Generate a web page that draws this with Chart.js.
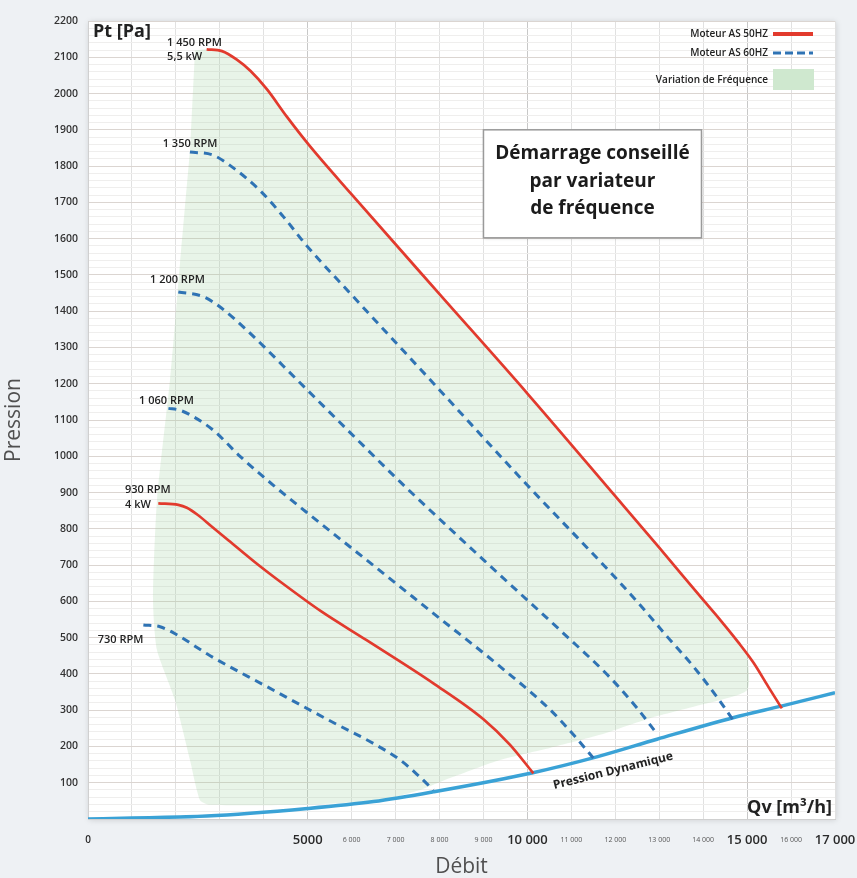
<!DOCTYPE html>
<html><head><meta charset="utf-8">
<script src="https://cdn.jsdelivr.net/npm/chart.js@4.4.1/dist/chart.umd.min.js"></script>
<style>
html,body{margin:0;padding:0;background:#eef1f4;}
#wrap{width:857px;height:878px;}
canvas{display:block;}
</style></head><body>
<div id="wrap"><canvas id="c" width="857" height="878"></canvas></div>
<script>
// ---- data (Qv m3/h, Pt Pa) ----
const curve1450 = [[2700,2122],[3050,2117],[3380,2094],[3700,2062],[4070,2012],[4520,1937],[5050,1855],[6000,1722],[8000,1447],[10000,1173],[12000,890],[13000,748],[14000,604],[14400,547],[14800,487],[15150,430],[15480,365],[15790,305]];
const curve1350 = [[2320,1839],[2850,1830],[3230,1802],[3910,1733],[4450,1660],[4980,1580],[6000,1445],[8000,1183],[10000,920],[11950,672],[12600,585],[13200,500],[13780,420],[14310,337],[14680,273]];
const curve1200 = [[2055,1453],[2625,1440],[3000,1412],[3610,1348],[4830,1202],[5960,1066],[7100,930],[9380,672],[10820,512],[11880,390],[12500,305],[12940,236]];
const curve1060 = [[1830,1132],[2090,1127],[2400,1109],[2850,1072],[3460,1000],[4220,920],[4980,845],[6340,714],[7860,567],[9380,420],[10510,302],[11050,232],[11500,168]];
const curve930  = [[1600,870],[2055,866],[2250,858],[2500,838],[2800,808],[3200,768],[3800,708],[4500,643],[5300,573],[6340,493],[7860,374],[9000,275],[9600,205],[10135,126]];
const curve730  = [[1260,535],[1640,530],[2020,508],[2780,450],[4070,365],[5580,266],[6500,208],[7100,163],[7480,124],[7860,80]];
const dynCurve  = [[0,0],[1000,3],[2700,8],[5000,29],[6500,48],[7860,75],[10100,127],[11600,172],[12950,220],[14700,280],[15800,312],[17000,348]];
const freqZone  = [[2435,2119],[2700,2122],[3050,2117],[3380,2094],[3700,2062],[4070,2012],[4520,1937],[5050,1855],[6000,1722],[8000,1447],[10000,1173],[12000,890],[13000,748],[14000,604],[14400,547],[14800,487],[15000,452],[15000,355],[13928,314],[12790,278],[11652,232],[10514,196],[9376,163],[8238,113],[7556,80],[6645,52],[4825,39],[2777,39],[2549,52],[2321,163],[1980,328],[1570,466],[1480,604],[1570,879],[1866,1210],[1980,1367],[2094,1532],[2321,1844]];

const xTickLabels = ['0','','','','','5000','6 000','7 000','8 000','9 000','10 000','11 000','12 000','13 000','14 000','15 000','16 000','17 000'];
const xBigTicks = [5000,10000,15000,17000];
const yTickLabels = ['100','200','300','400','500','600','700','800','900','1000','1100','1200','1300','1400','1500','1600','1700','1800','1900','2000','2100','2200'];

const seriesNames = ['Moteur AS 50HZ','Moteur AS 60HZ','Variation de Fréquence'];
const rpmLabels = [
  {lines:['1 450 RPM','5,5 kW'], q:1800, p:2141},
  {lines:['1 350 RPM'], q:1700, p:1862},
  {lines:['1 200 RPM'], q:1411, p:1485},
  {lines:['1 060 RPM'], q:1161, p:1153},
  {lines:['930 RPM','4 kW'], q:842, p:907},
  {lines:['730 RPM'], q:221, p:493}
];
const boxLines = ['Démarrage conseillé','par variateur','de fréquence'];

// ---- styles ----
const RED = '#e23a2d', BLUE = '#2f73b4', LBLUE = '#3aa2d6', GREEN_FILL = 'rgba(150,205,150,0.22)', GREEN_LEG = '#cfe8cf';
const pts = a => a.map(([x,y]) => ({x, y}));
const solid = (d) => ({data: pts(d), borderColor: RED, borderWidth: 2.7, cubicInterpolationMode: 'monotone', pointRadius: 0, fill: false, order: 1});
const dashed = (d) => ({data: pts(d), borderColor: BLUE, borderWidth: 3, borderDash: [8,6], cubicInterpolationMode: 'monotone', pointRadius: 0, fill: false, order: 1});

const bgPlugin = {
  id: 'bg',
  beforeDraw(chart) {
    const {ctx, chartArea: a} = chart;
    ctx.save();
    ctx.fillStyle = '#eef1f4';
    ctx.fillRect(0, 0, chart.width, chart.height);
    ctx.shadowColor = 'rgba(0,0,0,0.15)';
    ctx.shadowBlur = 6; ctx.shadowOffsetX = 1; ctx.shadowOffsetY = 1;
    ctx.fillStyle = '#ffffff';
    ctx.fillRect(a.left, a.top, a.right - a.left, a.bottom - a.top);
    ctx.restore();
  }
};

function interpDyn(q) {
  for (let i = 1; i < dynCurve.length; i++) {
    if (q <= dynCurve[i][0]) {
      const [x0,y0] = dynCurve[i-1], [x1,y1] = dynCurve[i];
      return y0 + (y1 - y0) * (q - x0) / (x1 - x0);
    }
  }
  return dynCurve[dynCurve.length-1][1];
}

const overlayPlugin = {
  id: 'overlay',
  afterDatasetsDraw(chart) {
    const {ctx, chartArea: a, scales: {x, y}} = chart;
    ctx.save();
    ctx.fillStyle = '#222';
    ctx.font = 'bold 18px "Open Sans"';
    ctx.textBaseline = 'middle'; ctx.textAlign = 'left';
    ctx.fillText('Pt [Pa]', a.left + 5, a.top + 11);
    ctx.textAlign = 'right';
    ctx.fillText('Qv [m³/h]', a.right - 3, a.bottom - 11);
    ctx.font = '600 11px "Open Sans"';
    ctx.textAlign = 'left';
    rpmLabels.forEach(l => {
      const px = x.getPixelForValue(l.q), py = y.getPixelForValue(l.p);
      l.lines.forEach((t, i) => ctx.fillText(t, px, py + i * 14.5));
    });
    // Pression Dynamique label, placed under the curve
    const qm = 11850;
    ctx.save();
    ctx.translate(x.getPixelForValue(qm), y.getPixelForValue(interpDyn(qm)));
    ctx.rotate(-14 * Math.PI / 180);
    ctx.font = 'bold 12px "Open Sans"';
    ctx.textAlign = 'center'; ctx.textBaseline = 'middle';
    ctx.fillText('Pression Dynamique', 0, 18);
    ctx.restore();
    // recommendation box
    const bx = x.getPixelForValue(9000), by = y.getPixelForValue(1900);
    const bw = 218, bh = 108;
    ctx.save();
    ctx.shadowColor = 'rgba(0,0,0,0.18)'; ctx.shadowBlur = 3; ctx.shadowOffsetX = 1; ctx.shadowOffsetY = 1;
    ctx.fillStyle = '#ffffff';
    ctx.fillRect(bx, by, bw, bh);
    ctx.restore();
    ctx.strokeStyle = '#9a9a9a'; ctx.lineWidth = 1.5;
    ctx.strokeRect(bx, by, bw, bh);
    ctx.fillStyle = '#1b1b1b';
    ctx.font = 'bold 19px "Open Sans"';
    ctx.textAlign = 'center'; ctx.textBaseline = 'middle';
    boxLines.forEach((t, i) => ctx.fillText(t, bx + bw / 2, by + 24 + i * 27.5));
    // legend
    const lx = a.right - 67, ls = a.right - 62, le = a.right - 22;
    ctx.font = '600 10px "Open Sans"';
    ctx.textAlign = 'right'; ctx.fillStyle = '#222';
    ctx.fillText(seriesNames[0], lx, a.top + 13);
    ctx.fillText(seriesNames[1], lx, a.top + 32);
    ctx.fillText(seriesNames[2], lx, a.top + 59);
    ctx.strokeStyle = RED; ctx.lineWidth = 4;
    ctx.beginPath(); ctx.moveTo(ls, a.top + 13); ctx.lineTo(le, a.top + 13); ctx.stroke();
    ctx.strokeStyle = BLUE; ctx.lineWidth = 3; ctx.setLineDash([8, 4]);
    ctx.beginPath(); ctx.moveTo(ls, a.top + 32); ctx.lineTo(le, a.top + 32); ctx.stroke();
    ctx.setLineDash([]);
    ctx.fillStyle = GREEN_LEG;
    ctx.fillRect(ls, a.top + 48, le - ls + 1, 21);
    ctx.restore();
  }
};

new Chart(document.getElementById('c'), {
  type: 'line',
  data: {
    datasets: [
      solid(curve1450), dashed(curve1350), dashed(curve1200), dashed(curve1060), solid(curve930), dashed(curve730),
      {data: pts(dynCurve), borderColor: LBLUE, borderWidth: 3.5, cubicInterpolationMode: 'monotone', pointRadius: 0, fill: false, order: 2},
      {data: pts(freqZone), borderWidth: 0, borderColor: 'rgba(0,0,0,0)', backgroundColor: GREEN_FILL, fill: 'shape', tension: 0.2, pointRadius: 0, order: 10}
    ]
  },
  options: {
    responsive: false, animation: false, devicePixelRatio: 1,
    layout: {padding: {top: 21, right: 22, left: 0, bottom: 0}},
    plugins: {legend: {display: false}, tooltip: {enabled: false}},
    scales: {
      x: {
        type: 'linear', min: 0, max: 17000,
        afterFit(s) { s.height = 59; s.paddingLeft = 0; s.paddingRight = 0; },
        ticks: {
          stepSize: 1000, autoSkip: false, maxRotation: 0, minRotation: 0, padding: 13,
          callback: v => xTickLabels[Math.round(v / 1000)] ?? '',
          font: c => (c.tick && xBigTicks.includes(c.tick.value))
            ? {family: 'Open Sans', size: 13, weight: '600', lineHeight: '16px'}
            : (c.tick && c.tick.value === 0)
              ? {family: 'Open Sans', size: 10, weight: '600', lineHeight: '16px'}
              : {family: 'Open Sans', size: 7, weight: '400', lineHeight: '16px'},
          color: c => (c.tick && (xBigTicks.includes(c.tick.value) || c.tick.value === 0)) ? '#2a2a2a' : '#555'
        },
        grid: {drawTicks: false, color: c => (c.tick && c.tick.value % 5000 === 0) ? '#c8c8c8' : '#e1e1e1'},
        border: {display: true, color: '#d0d0d0'},
        title: {display: true, text: 'Débit', color: '#505050', font: {family: 'Open Sans', size: 21, lineHeight: 1}, padding: {top: 0, bottom: 0}}
      },
      y: {
        type: 'linear', min: 0, max: 2200,
        afterFit(s) { s.width = 88; },
        ticks: {
          stepSize: 20, autoSkip: false, padding: 10,
          callback: v => (v % 100 === 0 && v > 0) ? yTickLabels[v / 100 - 1] : '',
          font: {family: 'Open Sans', size: 10.5, weight: '600'}, color: '#333'
        },
        grid: {drawTicks: false, color: c => (c.tick && c.tick.value % 100 === 0) ? '#dbd5d1' : '#efeeed'},
        border: {display: true, color: '#d0d0d0'},
        title: {display: true, text: 'Pression', color: '#505050', font: {family: 'Open Sans', size: 21, lineHeight: 1}, padding: {top: 4, bottom: 0}}
      }
    }
  },
  plugins: [bgPlugin, overlayPlugin]
});
</script>
</body></html>
